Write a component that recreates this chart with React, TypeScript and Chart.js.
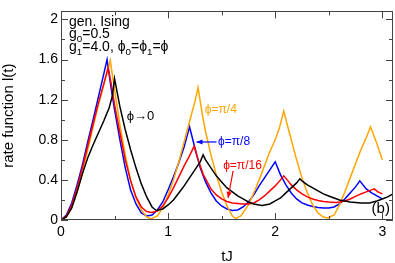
import React, { useEffect, useRef } from 'react';
import { Chart, registerables } from 'chart.js';

Chart.register(...registerables);

const FAMILY = '"Liberation Sans", Arial, Helvetica, sans-serif';

// ---- data: rate function l(t) vs tJ ----
const tBlack = [0, 0.05, 0.1, 0.15, 0.2, 0.25, 0.3, 0.35, 0.4, 0.45, 0.48, 0.5, 0.55, 0.6, 0.65, 0.7, 0.75, 0.8, 0.85, 0.89, 0.95, 1.0, 1.05, 1.1, 1.15, 1.2, 1.25, 1.3, 1.327, 1.35, 1.4, 1.45, 1.5, 1.55, 1.6, 1.65, 1.7, 1.75, 1.8, 1.85, 1.88, 1.95, 2.0, 2.05, 2.1, 2.15, 2.2, 2.23, 2.25, 2.3, 2.35, 2.4, 2.45, 2.5, 2.55, 2.6, 2.65, 2.7, 2.75, 2.8, 2.88, 2.95, 3.0, 3.05, 3.1];
const lBlack = [0, 0.03, 0.12, 0.28, 0.46, 0.62, 0.75, 0.87, 0.99, 1.12, 1.24, 1.41, 1.13, 0.9, 0.7, 0.52, 0.36, 0.23, 0.13, 0.095, 0.11, 0.15, 0.2, 0.27, 0.34, 0.42, 0.5, 0.58, 0.65, 0.6, 0.52, 0.44, 0.38, 0.32, 0.28, 0.24, 0.21, 0.18, 0.16, 0.15, 0.145, 0.16, 0.19, 0.22, 0.27, 0.32, 0.37, 0.41, 0.39, 0.35, 0.32, 0.29, 0.26, 0.24, 0.22, 0.2, 0.19, 0.18, 0.175, 0.17, 0.17, 0.19, 0.21, 0.23, 0.26];

const tRed = [0, 0.05, 0.1, 0.15, 0.2, 0.25, 0.3, 0.35, 0.4, 0.44, 0.47, 0.5, 0.55, 0.6, 0.65, 0.7, 0.75, 0.8, 0.845, 0.9, 0.95, 1.0, 1.05, 1.1, 1.15, 1.2, 1.243, 1.28, 1.33, 1.4, 1.45, 1.5, 1.55, 1.6, 1.7, 1.75, 1.8, 1.85, 1.9, 1.95, 2.0, 2.05, 2.08, 2.12, 2.15, 2.2, 2.25, 2.3, 2.35, 2.4, 2.45, 2.5, 2.57, 2.6, 2.65, 2.7, 2.75, 2.8, 2.85, 2.925, 2.96, 3.0];
const lRed = [0, 0.04, 0.15, 0.32, 0.52, 0.74, 0.96, 1.17, 1.36, 1.52, 1.35, 1.15, 0.87, 0.6, 0.39, 0.23, 0.13, 0.085, 0.075, 0.09, 0.14, 0.22, 0.32, 0.43, 0.54, 0.64, 0.736, 0.6, 0.45, 0.31, 0.25, 0.21, 0.185, 0.17, 0.16, 0.16, 0.17, 0.2, 0.24, 0.29, 0.34, 0.4, 0.44, 0.39, 0.35, 0.3, 0.26, 0.23, 0.21, 0.195, 0.185, 0.18, 0.175, 0.18, 0.19, 0.21, 0.235, 0.26, 0.28, 0.31, 0.28, 0.26];

const tBlue = [0, 0.05, 0.1, 0.15, 0.2, 0.25, 0.3, 0.35, 0.4, 0.43, 0.47, 0.5, 0.55, 0.6, 0.65, 0.7, 0.75, 0.8, 0.85, 0.9, 0.95, 1.0, 1.05, 1.1, 1.15, 1.2, 1.25, 1.3, 1.35, 1.4, 1.45, 1.5, 1.55, 1.6, 1.65, 1.7, 1.75, 1.8, 1.85, 1.9, 1.95, 2.0, 2.05, 2.1, 2.15, 2.2, 2.25, 2.3, 2.35, 2.4, 2.45, 2.5, 2.55, 2.6, 2.65, 2.7, 2.75, 2.79, 2.85, 2.9, 2.95, 3.0];
const lBlue = [0, 0.05, 0.17, 0.35, 0.55, 0.78, 1.0, 1.23, 1.46, 1.6, 1.3, 1.1, 0.8, 0.52, 0.3, 0.16, 0.07, 0.04, 0.05, 0.1, 0.18, 0.3, 0.43, 0.57, 0.73, 0.93, 0.72, 0.52, 0.38, 0.27, 0.19, 0.14, 0.11, 0.095, 0.1, 0.13, 0.18, 0.25, 0.34, 0.42, 0.5, 0.58, 0.45, 0.35, 0.27, 0.21, 0.17, 0.15, 0.135, 0.125, 0.12, 0.12, 0.13, 0.16, 0.21, 0.27, 0.33, 0.39, 0.31, 0.27, 0.24, 0.21];

const tOrange = [0, 0.05, 0.1, 0.15, 0.2, 0.25, 0.3, 0.35, 0.4, 0.46, 0.5, 0.55, 0.6, 0.65, 0.7, 0.75, 0.8, 0.84, 0.9, 0.95, 1.0, 1.05, 1.1, 1.15, 1.2, 1.25, 1.28, 1.32, 1.35, 1.4, 1.45, 1.5, 1.55, 1.6, 1.63, 1.68, 1.75, 1.8, 1.85, 1.9, 1.95, 2.0, 2.04, 2.08, 2.12, 2.15, 2.2, 2.25, 2.3, 2.35, 2.4, 2.45, 2.49, 2.55, 2.6, 2.65, 2.7, 2.75, 2.8, 2.85, 2.89, 2.95, 3.0];
const lOrange = [0, 0.03, 0.12, 0.28, 0.48, 0.7, 0.93, 1.15, 1.35, 1.59, 1.3, 0.95, 0.65, 0.4, 0.22, 0.1, 0.03, 0.01, 0.04, 0.12, 0.25, 0.4, 0.58, 0.78, 0.98, 1.18, 1.32, 1.05, 0.88, 0.65, 0.45, 0.28, 0.14, 0.04, 0.015, 0.04, 0.15, 0.27, 0.4, 0.54, 0.68, 0.8, 0.92, 1.085, 0.92, 0.8, 0.6, 0.42, 0.27, 0.15, 0.07, 0.03, 0.02, 0.05, 0.15, 0.28, 0.42, 0.56, 0.7, 0.82, 0.93, 0.76, 0.6];

// ---- axes ----
const X_MIN = 0;
const X_MAX = 3.1;
const Y_MIN = 0;
const Y_MAX = 2.08;
const xMajor = [0, 1, 2, 3];
const xMinor = [0.5, 1.5, 2.5];
const yMajor = [0, 0.4, 0.8, 1.2, 1.6, 2.0];
const yMinor = [0.2, 0.6, 1.0, 1.4, 1.8];

const COLORS = { black: '#000000', red: '#ff0000', blue: '#0000ff', orange: '#ffa500' };

type Part = { t: string; sub?: boolean };

function drawRich(ctx: CanvasRenderingContext2D, parts: Part[], x: number, y: number, size: number, color: string) {
  let cx = x;
  ctx.fillStyle = color;
  ctx.textBaseline = 'alphabetic';
  ctx.textAlign = 'left';
  for (const p of parts) {
    const s = p.sub ? size * 0.7 : size;
    ctx.font = `${s}px ${FAMILY}`;
    ctx.fillText(p.t, cx, p.sub ? y + size * 0.27 : y);
    cx += ctx.measureText(p.t).width;
  }
}

function drawArrow(ctx: CanvasRenderingContext2D, x0: number, y0: number, x1: number, y1: number, color: string) {
  ctx.save();
  ctx.strokeStyle = color;
  ctx.fillStyle = color;
  ctx.lineWidth = 1.2;
  ctx.beginPath();
  ctx.moveTo(x0, y0);
  ctx.lineTo(x1, y1);
  ctx.stroke();
  const ang = Math.atan2(y1 - y0, x1 - x0);
  const L = 6, W = 2.6;
  ctx.beginPath();
  ctx.moveTo(x1, y1);
  ctx.lineTo(x1 - L * Math.cos(ang) + W * Math.sin(ang), y1 - L * Math.sin(ang) - W * Math.cos(ang));
  ctx.lineTo(x1 - L * Math.cos(ang) - W * Math.sin(ang), y1 - L * Math.sin(ang) + W * Math.cos(ang));
  ctx.closePath();
  ctx.fill();
  ctx.restore();
}

const framePlugin = {
  id: 'frameTicks',
  afterDraw(chart: any) {
    const { ctx, chartArea: a, scales } = chart;
    const xs = scales.x, ys = scales.y;
    ctx.save();
    ctx.strokeStyle = '#444';
    ctx.lineWidth = 1;
    ctx.strokeRect(Math.round(a.left) + 0.5, Math.round(a.top) + 0.5, Math.round(a.right - a.left) - 1, Math.round(a.bottom - a.top) - 1);
    const tick = (vals: number[], len: number, horiz: boolean) => {
      for (const v of vals) {
        if (horiz) {
          const px = Math.round(xs.getPixelForValue(v)) + 0.5;
          ctx.beginPath();
          ctx.moveTo(px, a.bottom); ctx.lineTo(px, a.bottom - len);
          ctx.moveTo(px, a.top); ctx.lineTo(px, a.top + len);
          ctx.stroke();
        } else {
          const py = Math.round(ys.getPixelForValue(v)) + 0.5;
          ctx.beginPath();
          ctx.moveTo(a.left, py); ctx.lineTo(a.left + len, py);
          ctx.moveTo(a.right, py); ctx.lineTo(a.right - len, py);
          ctx.stroke();
        }
      }
    };
    tick(xMajor, 7, true);
    tick(xMinor, 4, true);
    tick(yMajor, 7, false);
    tick(yMinor, 4, false);

    const X = (v: number) => xs.getPixelForValue(v);
    const Y = (v: number) => ys.getPixelForValue(v);

    drawRich(ctx, [{ t: 'gen. Ising' }], X(0.075), Y(1.93), 14, '#000');
    drawRich(ctx, [{ t: 'g' }, { t: '0', sub: true }, { t: '=0.5' }], X(0.075), Y(1.814), 14, '#000');
    drawRich(ctx, [{ t: 'g' }, { t: '1', sub: true }, { t: '=4.0, ϕ' }, { t: '0', sub: true }, { t: '=ϕ' }, { t: '1', sub: true }, { t: '=ϕ' }], X(0.075), Y(1.683), 14, '#000');

    drawRich(ctx, [{ t: 'ϕ→0' }], X(0.614), Y(1.0), 13, COLORS.black);
    drawRich(ctx, [{ t: 'ϕ=π/4' }], X(1.343), Y(1.064), 12, COLORS.orange);
    drawRich(ctx, [{ t: 'ϕ=π/8' }], X(1.467), Y(0.752), 12, COLORS.blue);
    drawRich(ctx, [{ t: 'ϕ=π/16' }], X(1.514), Y(0.505), 12, COLORS.red);
    drawArrow(ctx, X(1.452), Y(0.778), X(1.265), Y(0.778), COLORS.blue);
    drawArrow(ctx, X(1.607), Y(0.49), X(1.56), Y(0.22), COLORS.red);
    drawRich(ctx, [{ t: '(b)' }], X(2.9), Y(0.065), 15, '#000');
    ctx.restore();
  },
};

function series(t: number[], l: number[]) {
  return t.map((x, i) => ({ x, y: l[i] }));
}

export default function App() {
  const ref = useRef<HTMLCanvasElement | null>(null);
  useEffect(() => {
    document.body.style.margin = '0';
    const canvas = ref.current;
    if (!canvas) return;
    const mk = (data: any, color: string) => ({
      data,
      borderColor: color,
      backgroundColor: color,
      borderWidth: 1.5,
      pointRadius: 0,
      tension: 0,
      fill: false,
    });
    const chart = new Chart(canvas, {
      type: 'line',
      data: {
        datasets: [
          mk(series(tBlack, lBlack), COLORS.black),
          mk(series(tRed, lRed), COLORS.red),
          mk(series(tOrange, lOrange), COLORS.orange),
          mk(series(tBlue, lBlue), COLORS.blue),
        ],
      },
      options: {
        animation: false,
        responsive: false,
        maintainAspectRatio: false,
        layout: { padding: { top: 2, right: 2, left: 0, bottom: 0 } },
        plugins: { legend: { display: false }, tooltip: { enabled: false } },
        scales: {
          x: {
            type: 'linear',
            min: X_MIN,
            max: X_MAX,
            afterFit: (s: any) => { s.height = 43; },
            grid: { display: false, drawTicks: false },
            border: { display: false },
            ticks: {
              stepSize: 1,
              includeBounds: false,
              autoSkip: false,
              maxRotation: 0,
              padding: 4,
              color: '#000',
              font: { family: FAMILY, size: 14 },
              callback: (v: any) => String(Math.round(Number(v))),
            },
            title: { display: true, text: 'tJ', color: '#000', font: { family: FAMILY, size: 15 }, padding: { top: 0, bottom: -3 } },
          },
          y: {
            type: 'linear',
            min: Y_MIN,
            max: Y_MAX,
            afterFit: (s: any) => { s.width = 61; },
            grid: { display: false, drawTicks: false },
            border: { display: false },
            ticks: {
              stepSize: 0.4,
              includeBounds: false,
              autoSkip: false,
              padding: 3,
              color: '#000',
              font: { family: FAMILY, size: 14 },
              callback: (v: any) => {
                const r = Math.round(Number(v) * 10) / 10;
                return Number.isInteger(r) ? String(r) : r.toFixed(1);
              },
            },
            title: { display: true, text: 'rate function l(t)', color: '#000', font: { family: FAMILY, size: 15 }, padding: { top: 0, bottom: 0 } },
          },
        },
      },
      plugins: [framePlugin],
    } as any);
    return () => chart.destroy();
  }, []);
  return (
    <div style={{ width: 395, height: 263 }}>
      <canvas ref={ref} width={395} height={263} style={{ display: 'block', width: 395, height: 263 }} />
    </div>
  );
}
